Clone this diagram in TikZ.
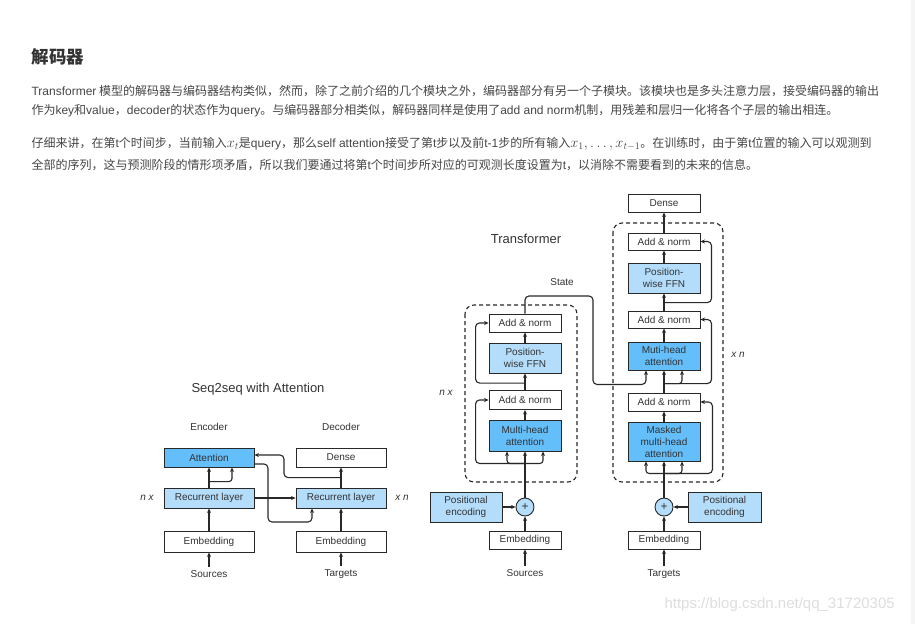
\documentclass[tikz,border=0pt]{standalone}
\usepackage{fontspec}
\setmainfont{Noto Sans CJK SC}
\newfontfamily\lat{Liberation Sans}
\newfontfamily\diafont{Liberation Sans}
\usepackage{xcolor}
\usetikzlibrary{positioning,calc,arrows.meta}

\definecolor{deepblue}{RGB}{99,190,250}
\definecolor{lightblue}{RGB}{180,221,251}
\definecolor{boxline}{RGB}{40,40,40}
\definecolor{txt}{RGB}{51,51,51}
\definecolor{bodytxt}{RGB}{70,70,70}
\definecolor{wmgray}{RGB}{222,222,222}

\newcommand{\inmath}[1]{{\fontsize{14}{14}\selectfont$#1$}}

\tikzset{
    blk/.style={draw=boxline, line width=0.9pt, inner sep=0pt, align=center, text=txt, font=\diafont\fontsize{10}{12}\selectfont},
    enc/.style={blk, minimum width=90pt, minimum height=20pt},
    tf/.style={blk, minimum width=72pt},
    sumnode/.style={circle, draw=boxline, line width=0.9pt, fill=lightblue, minimum size=18pt, inner sep=0pt, text=txt, font=\diafont\fontsize{12}{12}\selectfont},
    lbl/.style={text=txt, font=\diafont\fontsize{10}{12}\selectfont},
    rep/.style={text=txt, font=\diafont\itshape\fontsize{10}{12}\selectfont},
    ttl/.style={text=txt, font=\diafont\fontsize{13}{15}\selectfont},
    conn/.style={line width=1.1pt, draw=boxline, -{Stealth[length=4.5pt,width=4pt]}},
    stackbox/.style={line width=1.1pt, draw=boxline, rounded corners=9pt, dash pattern=on 4pt off 3pt},
}

\begin{document}
\begin{tikzpicture}[x=1pt, y=-1pt]
    \useasboundingbox (0,0) rectangle (915,624);
    \fill[white] (0,0) rectangle (915,624);
    \fill[gray!8] (911,0) rectangle (915,624);

    % Heading and paragraphs
    \node[anchor=west, text=txt, font=\fontsize{17.5}{20}\selectfont\bfseries] (head) at (28,57) {解码器};
    \begin{scope}[every node/.style={anchor=west, text=bodytxt, font=\fontsize{12}{14}\selectfont}]
        \node (p1a) at (28,91) {{\lat Transformer} 模型的解码器与编码器结构类似，然而，除了之前介绍的几个模块之外，编码器部分有另一个子模块。该模块也是多头注意力层，接受编码器的输出};
        \node (p1b) at (28,111) {作为{\lat key}和{\lat value}，{\lat decoder}的状态作为{\lat query}。与编码器部分相类似，解码器同样是使用了{\lat add and norm}机制，用残差和层归一化将各个子层的输出相连。};
        \node (p2a) at (28,144) {仔细来讲，在第{\lat t}个时间步，当前输入\inmath{x_t}是{\lat query}，那么{\lat self attention}接受了第{\lat t}步以及前{\lat t-1}步的所有输入\inmath{x_1, \ldots, x_{t-1}}。在训练时，由于第{\lat t}位置的输入可以观测到};
        \node (p2b) at (28,165) {全部的序列，这与预测阶段的情形项矛盾，所以我们要通过将第{\lat t}个时间步所对应的可观测长度设置为{\lat t}，以消除不需要看到的未来的信息。};
    \end{scope}

    % Seq2seq with Attention
    \begin{scope}
        \node[ttl] (s2s) at (258,389) {Seq2seq with Attention};
        \node[lbl] (enclbl) at (209,427) {Encoder};
        \node[lbl] (declbl) at (341,427) {Decoder};
        \node[enc, minimum height=19pt, fill=deepblue] (att) at (209,457.5) {Attention};
        \node[enc, minimum height=19pt] (dense) at (341,457.5) {Dense};
        \node[enc, fill=lightblue] (rnnE) at (209,498) {Recurrent layer};
        \node[enc, fill=lightblue] (rnnD) at (341,498) {Recurrent layer};
        \node[enc, minimum height=21pt] (embE) at (209,541.5) {Embedding};
        \node[enc, minimum height=21pt] (embD) at (341,541.5) {Embedding};
        \node[lbl] (srcE) at (209,574) {Sources};
        \node[lbl] (tgtD) at (341,574) {Targets};
        \node[rep] (nxE) at (147,498) {n x};
        \node[rep] (xnD) at (402,498) {x n};

        \draw[conn] (srcE) -- (embE);
        \draw[conn] (embE) -- (rnnE);
        \draw[conn] (rnnE) -- (att);
        \draw[conn, rounded corners=3pt] ([yshift=6pt]rnnE.north) -| ([xshift=23pt]att.south);
        \draw[conn] (rnnE) -- (rnnD);
        \draw[conn, rounded corners=4pt] ([yshift=-6.5pt]att.east) -| (268,522) -| ([xshift=-29pt]rnnD.south);
        \draw[conn] (tgtD) -- (embD);
        \draw[conn] (embD) -- (rnnD);
        \draw[conn] (rnnD) -- (dense);
        \draw[conn, rounded corners=4pt] ([yshift=10pt]rnnD.north) -| (284,455) -- ([yshift=2.5pt]att.east);
    \end{scope}

    % Transformer encoder
    \begin{scope}
        \node[ttl] (tfttl) at (526,239) {Transformer};
        \draw[stackbox] (465,305) rectangle (577,482);
        \node[tf, minimum height=18pt] (an1) at (525,323) {Add \& norm};
        \node[tf, minimum height=30pt, fill=lightblue] (ffn1) at (525,358) {Position-\\wise FFN};
        \node[tf, minimum height=19pt] (an2) at (525,400) {Add \& norm};
        \node[tf, minimum height=31pt, fill=deepblue] (mha1) at (525,435.5) {Multi-head\\attention};
        \node[sumnode] (plus1) at (525,507) {+};
        \node[tf, minimum height=30pt, fill=lightblue] (pos1) at (466,507) {Positional\\encoding};
        \node[tf, minimum height=18pt] (emb1) at (525,540) {Embedding};
        \node[lbl] (src1) at (525,573) {Sources};
        \node[rep] (nx1) at (446,393) {n x};
        \node[lbl] (state) at (562,282) {State};

        \draw[conn] (src1) -- (emb1);
        \draw[conn] (emb1) -- (plus1);
        \draw[conn] (pos1) -- (plus1);
        \draw[conn] (plus1) -- (mha1);
        \draw[conn, rounded corners=3pt] ([yshift=-12pt]mha1.south) -| ([xshift=-18pt]mha1.south);
        \draw[conn, rounded corners=3pt] ([yshift=-12pt]mha1.south) -| ([xshift=18pt]mha1.south);
        \draw[conn, rounded corners=4pt] ([yshift=-12pt]mha1.south) -| ([xshift=-13pt]an2.west) -- (an2.west);
        \draw[conn] (mha1) -- (an2);
        \draw[conn] (an2) -- (ffn1);
        \draw[conn, rounded corners=4pt] ([yshift=7pt]an2.north) -| ([xshift=-13pt]an1.west) -- (an1.west);
        \draw[conn] (ffn1) -- (an1);
    \end{scope}

    % Transformer decoder
    \begin{scope}
        \draw[stackbox] (613,223) rectangle (723,482);
        \node[tf, minimum height=18pt] (dense2) at (664,203) {Dense};
        \node[tf, minimum height=17pt] (an3) at (664,241.5) {Add \& norm};
        \node[tf, minimum height=30pt, fill=lightblue] (ffn2) at (664,278) {Position-\\wise FFN};
        \node[tf, minimum height=17pt] (an4) at (664,319.5) {Add \& norm};
        \node[tf, minimum height=28pt, fill=deepblue] (mha2) at (664,356) {Muti-head\\attention};
        \node[tf, minimum height=18pt] (an5) at (664,402) {Add \& norm};
        \node[tf, minimum height=39pt, fill=deepblue] (mmha) at (664,441.5) {Masked\\multi-head\\attention};
        \node[sumnode] (plus2) at (664,507) {+};
        \node[tf, minimum height=30pt, minimum width=73pt, fill=lightblue] (pos2) at (724.5,507) {Positional\\encoding};
        \node[tf, minimum height=18pt] (emb2) at (664,540) {Embedding};
        \node[lbl] (tgt2) at (664,574) {Targets};
        \node[rep] (xn2) at (738,355) {x n};

        \draw[conn] (tgt2) -- (emb2);
        \draw[conn] (emb2) -- (plus2);
        \draw[conn] (pos2) -- (plus2);
        \draw[conn] (plus2) -- (mmha);
        \draw[conn, rounded corners=3pt] ([yshift=-12pt]mmha.south) -| ([xshift=-18pt]mmha.south);
        \draw[conn, rounded corners=3pt] ([yshift=-12pt]mmha.south) -| ([xshift=18pt]mmha.south);
        \draw[conn, rounded corners=4pt] ([yshift=-12pt]mmha.south) -| ([xshift=12pt]an5.east) -- (an5.east);
        \draw[conn] (mmha) -- (an5);
        \draw[conn] (an5) -- (mha2);
        \draw[conn, rounded corners=3pt] ([yshift=9pt]an5.north) -| ([xshift=18pt]mha2.south);
        \draw[conn, rounded corners=4pt] ([yshift=9pt]an5.north) -| ([xshift=11pt]an4.east) -- (an4.east);
        \draw[conn] (mha2) -- (an4);
        \draw[conn] (an4) -- (ffn2);
        \draw[conn, rounded corners=4pt] ([yshift=8pt]an4.north) -| ([xshift=11pt]an3.east) -- (an3.east);
        \draw[conn] (ffn2) -- (an3);
        \draw[conn] (an3) -- (dense2);
    \end{scope}

    % State from encoder to decoder
    \draw[conn, rounded corners=4pt] (an1.north) |- (593,296) |- ([xshift=-18pt, yshift=-14pt]mha2.south) -- ([xshift=-18pt]mha2.south);

    % watermark
    \node[anchor=west, text=wmgray, font=\lat\fontsize{15}{17}\selectfont] (wm) at (661,605) {https://blog.csdn.net/qq\_31720305};
\end{tikzpicture}
\end{document}
